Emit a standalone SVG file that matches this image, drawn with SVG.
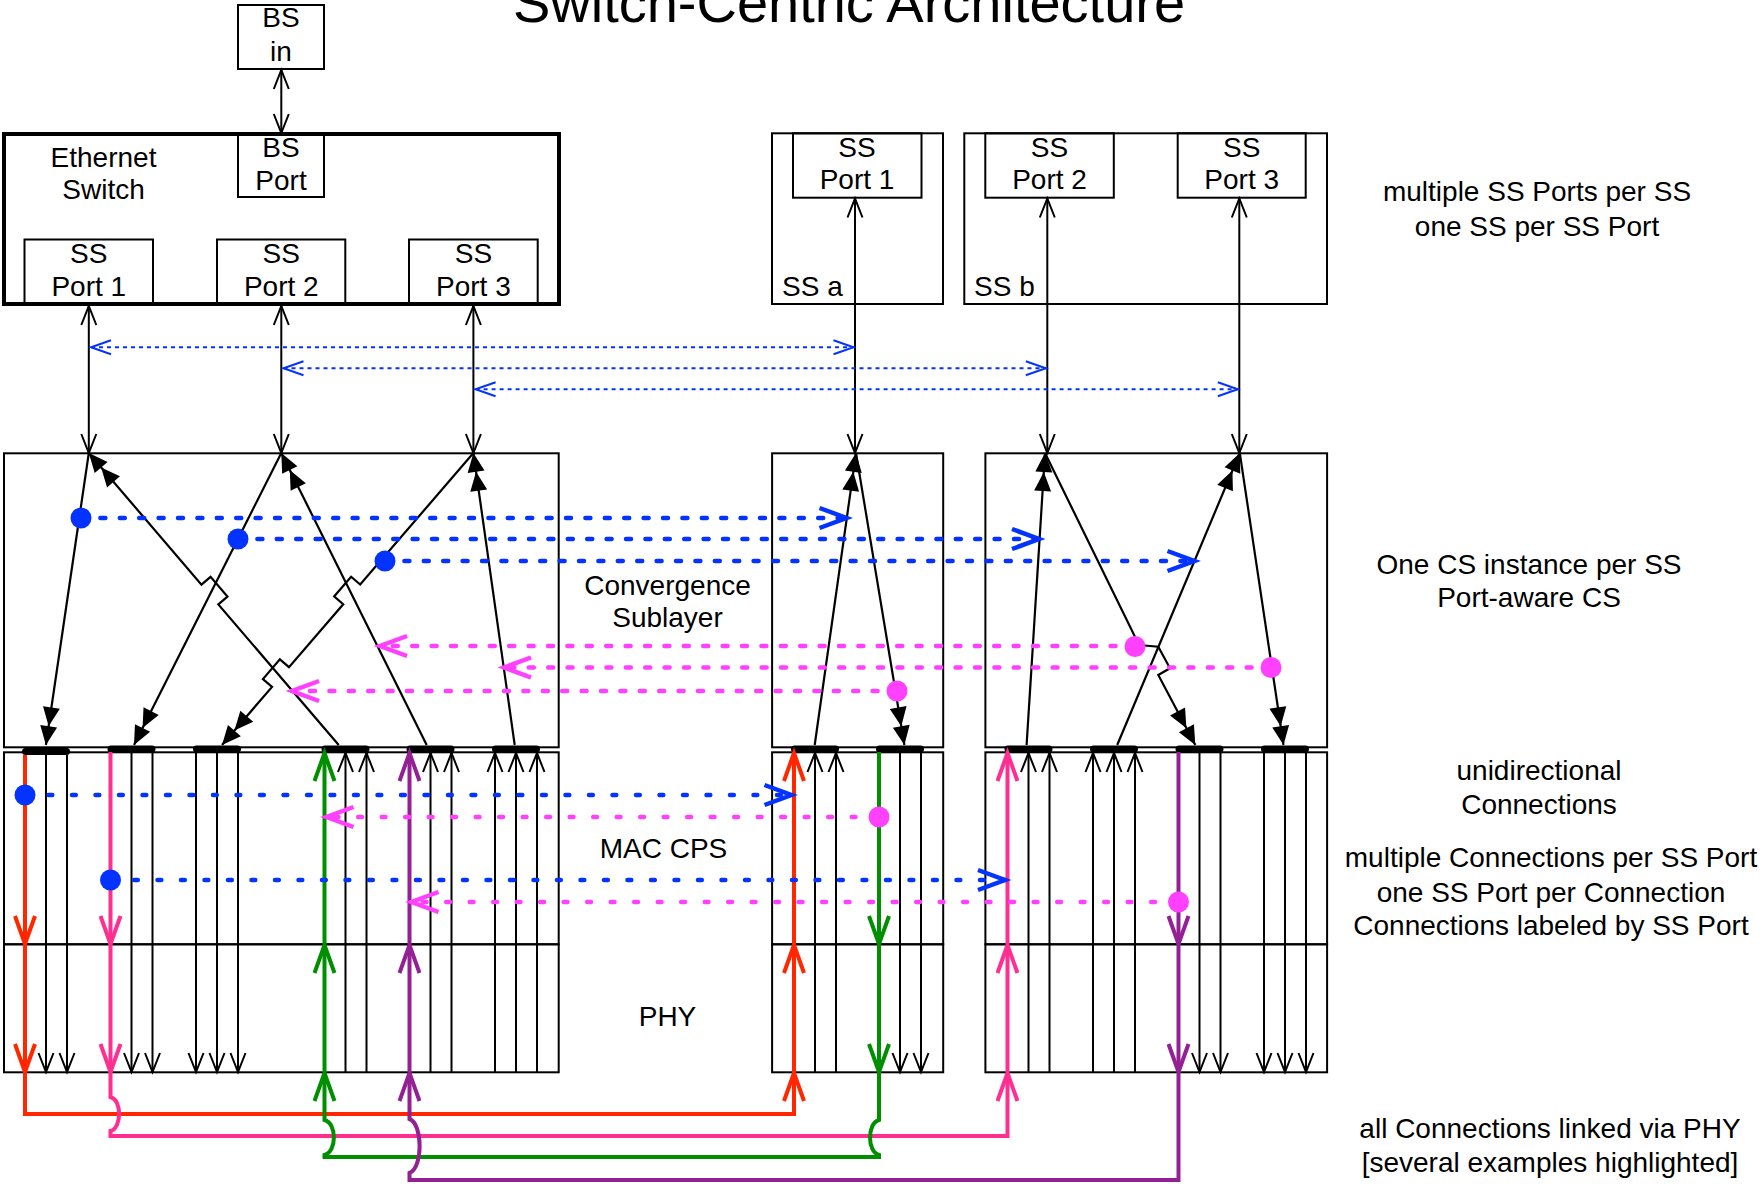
<svg xmlns="http://www.w3.org/2000/svg" width="1762" height="1184" viewBox="0 0 1762 1184">
<style>
.box{fill:none;stroke:#000;stroke-width:2}
.t{font-family:"Liberation Sans",Arial,Helvetica,sans-serif;font-size:28px;fill:#000;text-anchor:middle}
.tl{text-anchor:start}
.ln{fill:none;stroke:#000;stroke-width:2}
.cs{fill:none;stroke:#000;stroke-width:2.2;stroke-linejoin:miter}
.bd{fill:none;stroke:#0433FF;stroke-width:2;stroke-dasharray:4 4}
.bt{fill:none;stroke:#0433FF;stroke-width:4.5;stroke-linecap:round;stroke-dasharray:5 14.4}
.mt{fill:none;stroke:#FF40FF;stroke-width:4.5;stroke-linecap:round;stroke-dasharray:5 14.4}
.bm{fill:none;stroke:#0433FF;stroke-width:4.5;stroke-linecap:round;stroke-dasharray:3.8 19.7}
.mm{fill:none;stroke:#FF40FF;stroke-width:4.5;stroke-linecap:round;stroke-dasharray:3.8 19.7}
.red{fill:none;stroke:#FF2600;stroke-width:4}
.pnk{fill:none;stroke:#FF2F92;stroke-width:4}
.grn{fill:none;stroke:#008F00;stroke-width:4}
.pur{fill:none;stroke:#942193;stroke-width:4}
.bdot{fill:#0433FF}
.mdot{fill:#FF40FF}
.bar{fill:#000}
</style>
<defs>
<marker id="ob" markerUnits="userSpaceOnUse" orient="auto-start-reverse" markerWidth="1" markerHeight="1" refX="0" refY="0" overflow="visible"><path d="M-19,-7.5 L0,0 L-19,7.5" fill="none" stroke="#000" stroke-width="2"/></marker>
<marker id="fb" markerUnits="userSpaceOnUse" orient="auto" markerWidth="1" markerHeight="1" refX="0" refY="0" overflow="visible"><path d="M0,0 L-19,-8.5 L-19,8.5 Z M-19,0 L-38,-8.5 L-38,8.5 Z" fill="#000"/></marker>
<marker id="obl" markerUnits="userSpaceOnUse" orient="auto-start-reverse" markerWidth="1" markerHeight="1" refX="0" refY="0" overflow="visible"><path d="M-20,-7 L0,0 L-20,7" fill="none" stroke="#0433FF" stroke-width="2"/></marker>
<marker id="obT" markerUnits="userSpaceOnUse" orient="auto" markerWidth="1" markerHeight="1" refX="0" refY="0" overflow="visible"><path d="M-27,-10 L0,0 L-27,10" fill="none" stroke="#0433FF" stroke-width="4.5"/></marker>
<marker id="omT" markerUnits="userSpaceOnUse" orient="auto" markerWidth="1" markerHeight="1" refX="0" refY="0" overflow="visible"><path d="M-27,-10 L0,0 L-27,10" fill="none" stroke="#FF40FF" stroke-width="4.5"/></marker>
<marker id="mr" markerUnits="userSpaceOnUse" orient="auto" markerWidth="1" markerHeight="1" refX="0" refY="0" overflow="visible"><path d="M-28,-10 L0,0 L-28,10" fill="none" stroke="#FF2600" stroke-width="4"/></marker>
<marker id="mp" markerUnits="userSpaceOnUse" orient="auto" markerWidth="1" markerHeight="1" refX="0" refY="0" overflow="visible"><path d="M-28,-10 L0,0 L-28,10" fill="none" stroke="#FF2F92" stroke-width="4"/></marker>
<marker id="mg" markerUnits="userSpaceOnUse" orient="auto" markerWidth="1" markerHeight="1" refX="0" refY="0" overflow="visible"><path d="M-28,-10 L0,0 L-28,10" fill="none" stroke="#008F00" stroke-width="4"/></marker>
<marker id="mu" markerUnits="userSpaceOnUse" orient="auto" markerWidth="1" markerHeight="1" refX="0" refY="0" overflow="visible"><path d="M-28,-10 L0,0 L-28,10" fill="none" stroke="#942193" stroke-width="4"/></marker>
</defs>

<g id="title"><text class="t" x="849" y="22" style="font-size:56px">Switch-Centric Architecture</text></g>

<g id="bs-in"><rect class="box" x="238" y="5" width="86" height="64"/><text class="t" x="281" y="27">BS</text><text class="t" x="281" y="61">in</text></g>

<g id="ethernet-switch">
<rect x="4" y="134" width="555" height="170" fill="none" stroke="#000" stroke-width="4"/>
<text class="t" x="103.5" y="166.7">Ethernet</text><text class="t" x="103.5" y="199.3">Switch</text>
<g id="bs-port"><rect class="box" x="238" y="133" width="86" height="64"/><text class="t" x="281" y="156.7">BS</text><text class="t" x="281" y="190">Port</text></g>
<g id="sw-ss-port-1"><rect class="box" x="24.5" y="239.5" width="128.5" height="64.5"/><text class="t" x="88.8" y="263.3">SS</text><text class="t" x="88.8" y="296">Port 1</text></g>
<g id="sw-ss-port-2"><rect class="box" x="217" y="239.5" width="128.3" height="64.5"/><text class="t" x="281.3" y="263.3">SS</text><text class="t" x="281.3" y="296">Port 2</text></g>
<g id="sw-ss-port-3"><rect class="box" x="409" y="239.5" width="128.7" height="64.5"/><text class="t" x="473.4" y="263.3">SS</text><text class="t" x="473.4" y="296">Port 3</text></g>
</g>

<g id="ss-a">
<rect class="box" x="772" y="133.3" width="171" height="170.7"/>
<text class="t tl" x="782" y="296">SS a</text>
<g id="ss-a-port-1"><rect class="box" x="793" y="133.3" width="128.5" height="64.4"/><text class="t" x="857" y="156.7">SS</text><text class="t" x="857" y="189.3">Port 1</text></g>
</g>

<g id="ss-b">
<rect class="box" x="964.3" y="133.3" width="362.7" height="170.7"/>
<text class="t tl" x="974" y="296">SS b</text>
<g id="ss-b-port-2"><rect class="box" x="985.3" y="133.3" width="128.5" height="64.4"/><text class="t" x="1049.5" y="156.7">SS</text><text class="t" x="1049.5" y="189.3">Port 2</text></g>
<g id="ss-b-port-3"><rect class="box" x="1177.7" y="133.3" width="128" height="64.4"/><text class="t" x="1241.7" y="156.7">SS</text><text class="t" x="1241.7" y="189.3">Port 3</text></g>
</g>

<g id="cs-bs"><rect class="box" x="4" y="453.3" width="554.7" height="294"/></g>
<g id="cs-ss-a"><rect class="box" x="772.1" y="453.3" width="171.1" height="294"/></g>
<g id="cs-ss-b"><rect class="box" x="985.4" y="453.3" width="341.7" height="294"/></g>
<g id="mac-bs"><rect class="box" x="4" y="752.3" width="554.7" height="192"/></g>
<g id="mac-ss-a"><rect class="box" x="772.1" y="752.3" width="171.1" height="192"/></g>
<g id="mac-ss-b"><rect class="box" x="985.4" y="752.3" width="341.7" height="192"/></g>
<g id="phy-bs"><rect class="box" x="4" y="944.3" width="554.7" height="128"/></g>
<g id="phy-ss-a"><rect class="box" x="772.1" y="944.3" width="171.1" height="128"/></g>
<g id="phy-ss-b"><rect class="box" x="985.4" y="944.3" width="341.7" height="128"/></g>

<g id="layer-labels">
<text class="t" x="667.5" y="595">Convergence</text>
<text class="t" x="667.5" y="627">Sublayer</text>
<text class="t" x="663.5" y="858">MAC CPS</text>
<text class="t" x="667.5" y="1026">PHY</text>
</g>

<g id="notes">
<text class="t" x="1537" y="201">multiple SS Ports per SS</text>
<text class="t" x="1537" y="235.5">one SS per SS Port</text>
<text class="t" x="1529" y="573.6">One CS instance per SS</text>
<text class="t" x="1529" y="607">Port-aware CS</text>
<text class="t" x="1539" y="780">unidirectional</text>
<text class="t" x="1539" y="813.6">Connections</text>
<text class="t" x="1551" y="867.4">multiple Connections per SS Port</text>
<text class="t" x="1551" y="901.7">one SS Port per Connection</text>
<text class="t" x="1551" y="935.3">Connections labeled by SS Port</text>
<text class="t" x="1550" y="1138.3">all Connections linked via PHY</text>
<text class="t" x="1550" y="1172">[several examples highlighted]</text>
</g>

<g id="connection-bars">
<rect class="bar" x="22" y="748" width="48" height="7" rx="3.5"/>
<rect class="bar" x="107.5" y="745.5" width="48" height="7" rx="3.5"/>
<rect class="bar" x="193" y="745.5" width="48" height="7" rx="3.5"/>
<rect class="bar" x="321.5" y="745.5" width="48" height="7" rx="3.5"/>
<rect class="bar" x="406.5" y="745.5" width="48" height="7" rx="3.5"/>
<rect class="bar" x="492" y="745.5" width="48" height="7" rx="3.5"/>
<rect class="bar" x="791" y="745.5" width="48" height="7" rx="3.5"/>
<rect class="bar" x="876" y="745.5" width="48" height="7" rx="3.5"/>
<rect class="bar" x="1004.5" y="745.5" width="48" height="7" rx="3.5"/>
<rect class="bar" x="1090" y="745.5" width="48" height="7" rx="3.5"/>
<rect class="bar" x="1175.5" y="745.5" width="48" height="7" rx="3.5"/>
<rect class="bar" x="1261" y="745.5" width="48" height="7" rx="3.5"/>
</g>

<g id="connectors">
<!-- BS in to BS Port -->
<path class="ln" d="M281.3,70 L281.3,133" marker-start="url(#ob)" marker-end="url(#ob)"/>
<!-- switch SS ports to CS -->
<path class="ln" d="M88.8,306 L88.8,453" marker-start="url(#ob)" marker-end="url(#ob)"/>
<path class="ln" d="M281.3,306 L281.3,453" marker-start="url(#ob)" marker-end="url(#ob)"/>
<path class="ln" d="M473.4,306 L473.4,453" marker-start="url(#ob)" marker-end="url(#ob)"/>
<!-- SS ports to CS -->
<path class="ln" d="M855,198.5 L855,453" marker-start="url(#ob)" marker-end="url(#ob)"/>
<path class="ln" d="M1047.3,198.5 L1047.3,453" marker-start="url(#ob)" marker-end="url(#ob)"/>
<path class="ln" d="M1239.3,198.5 L1239.3,453" marker-start="url(#ob)" marker-end="url(#ob)"/>
<!-- thin blue dotted port pairings -->
<path class="bd" d="M91,347.3 L853.5,347.3" marker-start="url(#obl)" marker-end="url(#obl)"/>
<path class="bd" d="M283.5,368.3 L1045.8,368.3" marker-start="url(#obl)" marker-end="url(#obl)"/>
<path class="bd" d="M475.6,389.3 L1237.8,389.3" marker-start="url(#obl)" marker-end="url(#obl)"/>

<!-- CS internal lines, BS side -->
<path class="cs" d="M88.8,453 L45.9,745" marker-end="url(#fb)"/>
<path class="cs" d="M281.3,453 L134,745" marker-end="url(#fb)"/>
<path class="cs" d="M473.4,453 L360.18,584.55 L351.09,576.72 L334.13,596.42 L343.22,604.25 L288.98,667.15 L279.89,659.32 L262.93,679.02 L272.02,686.85 L222,745" marker-end="url(#fb)"/>
<path class="cs" d="M338.7,745 L218.35,604.38 L227.47,596.58 L210.57,576.82 L201.45,584.62 L88.8,453" marker-end="url(#fb)"/>
<path class="cs" d="M426.7,745 L281.3,453" marker-end="url(#fb)"/>
<path class="cs" d="M514.7,745 L473.4,453" marker-end="url(#fb)"/>
<!-- CS SS a -->
<path class="cs" d="M814.7,745 L856,453" marker-end="url(#fb)"/>
<path class="cs" d="M856,453 L904.4,745" marker-end="url(#fb)"/>
<!-- CS SS b -->
<path class="cs" d="M1026.6,745 L1045,453" marker-end="url(#fb)"/>
<path class="cs" d="M1045,453 L1139,645 L1158.3,646.7 L1170,668.3 L1158.3,675 L1195.3,745" marker-end="url(#fb)"/>
<path class="cs" d="M1117.2,745 L1239.8,453" marker-end="url(#fb)"/>
<path class="cs" d="M1239.8,453 L1283.5,745" marker-end="url(#fb)"/>

<!-- MAC/PHY black connections: down -->
<g class="ln" marker-end="url(#ob)">
<path d="M46,755 L46,944 M46,944 L46,1072"/>
<path d="M67,755 L67,944 M67,944 L67,1072"/>
<path d="M131.5,752 L131.5,944 M131.5,944 L131.5,1072"/>
<path d="M152.5,752 L152.5,944 M152.5,944 L152.5,1072"/>
<path d="M196,752 L196,944 M196,944 L196,1072"/>
<path d="M217,752 L217,944 M217,944 L217,1072"/>
<path d="M238,752 L238,944 M238,944 L238,1072"/>
<path d="M900,752 L900,944 M900,944 L900,1072"/>
<path d="M921,752 L921,944 M921,944 L921,1072"/>
<path d="M1199.5,752 L1199.5,944 M1199.5,944 L1199.5,1072"/>
<path d="M1220.5,752 L1220.5,944 M1220.5,944 L1220.5,1072"/>
<path d="M1264,752 L1264,944 M1264,944 L1264,1072"/>
<path d="M1285,752 L1285,944 M1285,944 L1285,1072"/>
<path d="M1306,752 L1306,944 M1306,944 L1306,1072"/>
</g>
<!-- MAC/PHY black connections: up -->
<g class="ln" marker-end="url(#ob)">
<path d="M345.5,1072 L345.5,944 M345.5,944 L345.5,753"/>
<path d="M366.5,1072 L366.5,944 M366.5,944 L366.5,753"/>
<path d="M430.5,1072 L430.5,944 M430.5,944 L430.5,753"/>
<path d="M451.5,1072 L451.5,944 M451.5,944 L451.5,753"/>
<path d="M495,1072 L495,944 M495,944 L495,753"/>
<path d="M516,1072 L516,944 M516,944 L516,753"/>
<path d="M537,1072 L537,944 M537,944 L537,753"/>
<path d="M815,1072 L815,944 M815,944 L815,753"/>
<path d="M836,1072 L836,944 M836,944 L836,753"/>
<path d="M1028.5,1072 L1028.5,944 M1028.5,944 L1028.5,753"/>
<path d="M1049.5,1072 L1049.5,944 M1049.5,944 L1049.5,753"/>
<path d="M1093,1072 L1093,944 M1093,944 L1093,753"/>
<path d="M1114,1072 L1114,944 M1114,944 L1114,753"/>
<path d="M1135,1072 L1135,944 M1135,944 L1135,753"/>
</g>

<!-- highlighted connections -->
<g id="conn-red">
<path class="red" d="M25,755 L25,944" marker-end="url(#mr)"/>
<path class="red" d="M25,944 L25,1072" marker-end="url(#mr)"/>
<path class="red" d="M25,1072 L25,1114 L794,1114 L794,1073" marker-end="url(#mr)"/>
<path class="red" d="M794,1072 L794,945" marker-end="url(#mr)"/>
<path class="red" d="M794,944 L794,753" marker-end="url(#mr)"/>
</g>
<g id="conn-pink">
<path class="pnk" d="M110.5,752 L110.5,944" marker-end="url(#mp)"/>
<path class="pnk" d="M110.5,944 L110.5,1072" marker-end="url(#mp)"/>
<path class="pnk" d="M110.5,1072 L110.5,1097 C122,1100 122,1128 110.5,1131 L110.5,1136 L1007.5,1136 L1007.5,1073" marker-end="url(#mp)"/>
<path class="pnk" d="M1007.5,1072 L1007.5,945" marker-end="url(#mp)"/>
<path class="pnk" d="M1007.5,944 L1007.5,753" marker-end="url(#mp)"/>
</g>
<g id="conn-green">
<path class="grn" d="M879,752 L879,944" marker-end="url(#mg)"/>
<path class="grn" d="M879,944 L879,1072" marker-end="url(#mg)"/>
<path class="grn" d="M879,1072 L879,1120 C867,1123 867,1152 879,1155 L879,1157 L324.5,1157 L324.5,1155 C337,1152 337,1123 324.5,1120 L324.5,1073" marker-end="url(#mg)"/>
<path class="grn" d="M324.5,1072 L324.5,945" marker-end="url(#mg)"/>
<path class="grn" d="M324.5,944 L324.5,753" marker-end="url(#mg)"/>
</g>
<g id="conn-purple">
<path class="pur" d="M1178.5,752 L1178.5,944" marker-end="url(#mu)"/>
<path class="pur" d="M1178.5,944 L1178.5,1072" marker-end="url(#mu)"/>
<path class="pur" d="M1178.5,1072 L1178.5,1180 L409.5,1180 L409.5,1173 C423,1168 423,1124 409.5,1119 L409.5,1073" marker-end="url(#mu)"/>
<path class="pur" d="M409.5,1072 L409.5,945" marker-end="url(#mu)"/>
<path class="pur" d="M409.5,944 L409.5,753" marker-end="url(#mu)"/>
</g>

<!-- CS-level mappings -->
<path class="bt" d="M81,518 L846.5,518" marker-end="url(#obT)"/>
<path class="bt" d="M238,539 L1039,539" marker-end="url(#obT)"/>
<path class="bt" d="M385,561 L1194.5,561" marker-end="url(#obT)"/>
<path class="mt" d="M1135,646 L380,646" marker-end="url(#omT)"/>
<path class="mt" d="M1271,667.5 L504,667.5" marker-end="url(#omT)"/>
<path class="mt" d="M897,691 L292,691" marker-end="url(#omT)"/>
<!-- MAC-level mappings -->
<path class="bm" d="M25,795 L791.5,795" marker-end="url(#obT)"/>
<path class="mm" d="M879,817 L326.5,817" marker-end="url(#omT)"/>
<path class="bm" d="M110.5,880 L1005,880" marker-end="url(#obT)"/>
<path class="mm" d="M1178.5,902 L411.5,902" marker-end="url(#omT)"/>

<g id="dots">
<circle class="bdot" cx="81" cy="518" r="10.5"/>
<circle class="bdot" cx="238" cy="539" r="10.5"/>
<circle class="bdot" cx="385" cy="561" r="10.5"/>
<circle class="mdot" cx="1135" cy="646.5" r="10.5"/>
<circle class="mdot" cx="1271" cy="667.5" r="10.5"/>
<circle class="mdot" cx="897" cy="691" r="10.5"/>
<circle class="bdot" cx="25" cy="795" r="10.5"/>
<circle class="mdot" cx="879" cy="817" r="10.5"/>
<circle class="bdot" cx="110.5" cy="880" r="10.5"/>
<circle class="mdot" cx="1178.5" cy="902" r="10.5"/>
</g>
</g>
</svg>
